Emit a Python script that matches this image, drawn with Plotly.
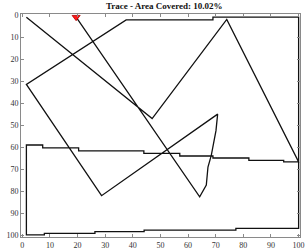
import plotly.graph_objects as go

# Trace path vertices (grid coordinates, y grows downward)
path_x = [1.5, 47, 74, 100, 94.6, 94.6, 82, 82, 69, 69, 57, 57, 44, 44, 20.4, 20.4, 7.4, 7.4,
          1.5, 1.5, 8, 8, 26.3, 26.3, 44.1, 44.1, 77.3, 77.3, 100, 100, 69, 69, 37.6,
          1.5, 28.7, 70.7, 70.1, 68.4, 67.2, 66.6, 64.2, 19.5]
path_y = [1, 47, 2, 66.7, 66.7, 66.0, 66.0, 64.9, 64.9, 64.0, 64.0, 62.8, 62.8, 61.7, 61.7, 60.3, 60.3, 59,
          59, 99.8, 99.8, 99.1, 99.1, 98.3, 98.3, 97.6, 97.6, 96.8, 96.8, 1, 1, 2.2, 2.2,
          31.5, 82, 45, 52.5, 63.7, 69, 77.2, 82.5, 1]

# Current position marker
pos_x = [19.5]
pos_y = [1]

title_text = "Trace - Area Covered: 10.02%"
tick_vals = [0, 10, 20, 30, 40, 50, 60, 70, 80, 90, 100]

fig = go.Figure()
fig.add_trace(go.Scatter(x=path_x, y=path_y, mode="lines",
                         line=dict(color="#111111", width=1.3), showlegend=False,
                         hoverinfo="skip"))
fig.add_trace(go.Scatter(x=pos_x, y=pos_y, mode="markers",
                         marker=dict(symbol="triangle-down", size=7, color="#ff1a1a",
                                     line=dict(color="#b00000", width=0.8)),
                         showlegend=False))

axis_common = dict(showgrid=False, zeroline=False, showline=True, linecolor="#8a8a8a",
                   linewidth=1, mirror="allticks", ticks="inside", ticklen=3,
                   tickcolor="#8a8a8a", tickvals=tick_vals, ticklabeloverflow="allow",
                   tickfont=dict(family="Liberation Serif", size=8, color="#333333"))

fig.update_xaxes(range=[-0.45, 100.5], **axis_common)
fig.update_yaxes(range=[100.75, -0.45], **axis_common)

fig.update_layout(
    width=307, height=252,
    margin=dict(l=21, r=2, t=14, b=13),
    paper_bgcolor="white", plot_bgcolor="white",
    title=dict(text="<b>" + title_text + "</b>", x=0.535, xanchor="center",
               y=0.975, yanchor="middle",
               font=dict(family="Liberation Serif", size=9, color="#111111")),
)

fig.write_html("out.html", config={"displayModeBar": False},
               post_script="document.body.style.margin='0px';document.body.style.overflow='hidden';")
